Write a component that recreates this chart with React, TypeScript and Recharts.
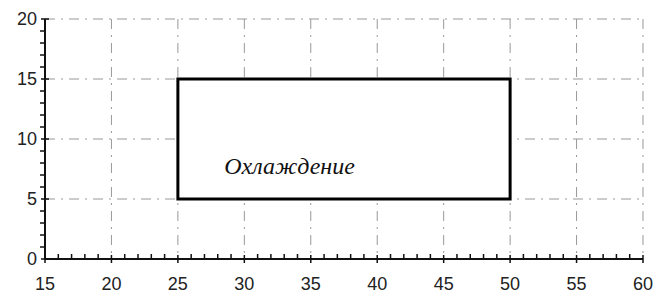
import React from 'react';
import { ComposedChart, XAxis, YAxis, CartesianGrid, ReferenceArea, ReferenceDot } from 'recharts';

const xMajor = [15, 20, 25, 30, 35, 40, 45, 50, 55, 60];
const yMajor = [0, 5, 10, 15, 20];
const xTicks = Array.from({ length: 46 }, (_, i) => 15 + i);
const yTicks = Array.from({ length: 21 }, (_, i) => i);

const gridX = [20, 25, 30, 35, 40, 45, 50, 55, 60];
const gridY = [5, 10, 15, 20];

const zoneX = [25, 50];
const zoneY = [5, 15];
const zoneLabel = 'Охлаждение';
const labelAt = { x: 33.4, y: 7.8 };

const tickFont = { fontFamily: 'Liberation Sans, Arial, sans-serif', fontSize: 18, fill: '#222' };

function XTick(props: any) {
  const { x, y, payload } = props;
  const major = xMajor.includes(payload.value);
  return (
    <g>
      {major ? (
        <line x1={x} x2={x} y1={y - 4} y2={y + 4} stroke="#111" strokeWidth={1.5} />
      ) : (
        <line x1={x} x2={x} y1={y} y2={y - 5} stroke="#111" strokeWidth={1.5} />
      )}
      {major && (
        <text x={x} y={y + 31} textAnchor="middle" {...tickFont}>
          {payload.value}
        </text>
      )}
    </g>
  );
}

function YTick(props: any) {
  const { x, y, payload } = props;
  const major = yMajor.includes(payload.value);
  return (
    <g>
      {major ? (
        <line x1={x - 4} x2={x + 4} y1={y} y2={y} stroke="#111" strokeWidth={1.5} />
      ) : (
        <line x1={x} x2={x - 5} y1={y} y2={y} stroke="#111" strokeWidth={1.5} />
      )}
      {major && (
        <text x={x - 8} y={y} textAnchor="end" dominantBaseline="central" {...tickFont}>
          {payload.value}
        </text>
      )}
    </g>
  );
}

export default function App() {
  return (
    <div style={{ position: 'fixed', left: 0, top: 0, width: 656, height: 297, background: '#fff' }}>
      <ComposedChart width={656} height={297} data={[]} margin={{ top: 19, right: 13, bottom: 8, left: 0 }}>
        <CartesianGrid
          horizontalValues={gridY}
          verticalValues={gridX}
          stroke="#999"
          strokeWidth={1}
          strokeDasharray="10 6 2 6"
        />
        <XAxis
          type="number"
          dataKey="x"
          domain={[15, 60]}
          ticks={xTicks}
          interval={0}
          tickSize={0}
          tickMargin={0}
          tickLine={false}
          tick={<XTick />}
          height={30}
          axisLine={{ stroke: '#111', strokeWidth: 2 }}
          allowDataOverflow
        />
        <YAxis
          type="number"
          dataKey="y"
          domain={[0, 20]}
          ticks={yTicks}
          interval={0}
          tickSize={0}
          tickMargin={0}
          tickLine={false}
          tick={<YTick />}
          width={45}
          axisLine={{ stroke: '#111', strokeWidth: 2 }}
          allowDataOverflow
        />
        <ReferenceArea
          x1={zoneX[0]}
          x2={zoneX[1]}
          y1={zoneY[0]}
          y2={zoneY[1]}
          fill="#fff"
          fillOpacity={1}
          stroke="#000"
          strokeWidth={3}
        />
        <ReferenceDot
          x={labelAt.x}
          y={labelAt.y}
          r={0}
          fill="none"
          stroke="none"
          label={{
            value: zoneLabel,
            position: 'center',
            fontFamily: 'Liberation Serif, Times New Roman, serif',
            fontStyle: 'italic',
            fontSize: 24,
            fill: '#111',
          }}
        />
      </ComposedChart>
    </div>
  );
}
